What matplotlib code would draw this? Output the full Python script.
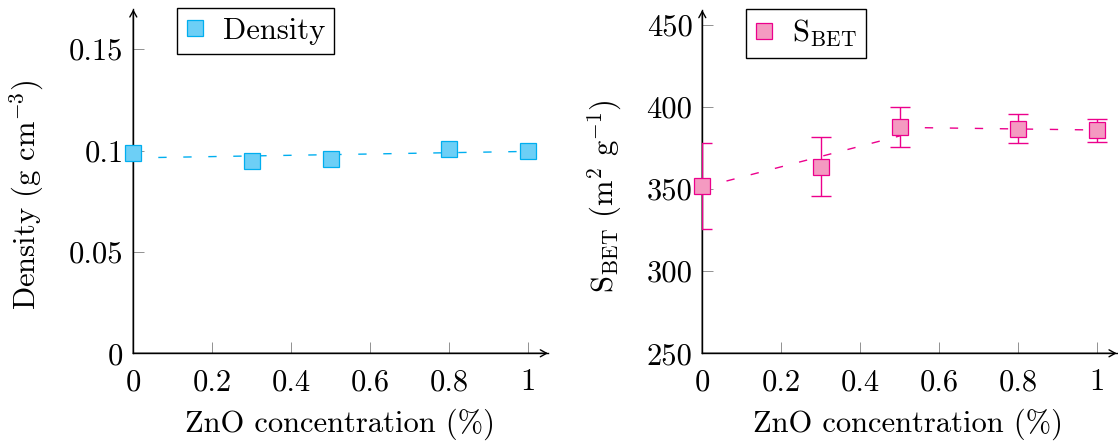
import matplotlib
matplotlib.use("Agg")
import matplotlib.pyplot as plt
from matplotlib.lines import Line2D

plt.rcParams['font.family'] = ['cmr10', 'DejaVu Serif']
plt.rcParams['mathtext.fontset'] = 'cm'
plt.rcParams['axes.unicode_minus'] = False
plt.rcParams['axes.formatter.use_mathtext'] = True

# data
conc = [0, 0.3, 0.5, 0.8, 1]
density = [0.0988, 0.0947, 0.0957, 0.1006, 0.0997]
density_fit_x = [0, 1]
density_fit_y = [0.0964, 0.0996]

sbet = [352, 363.7, 387.8, 386.8, 385.8]
sbet_err = [26, 18, 12, 9, 7]
sbet_fit_lo_x = [0, 0.5]
sbet_fit_lo_y = [351.1, 382.4]
sbet_fit_hi_x = [0.5, 1]
sbet_fit_hi_y = [387.6, 386.0]

x_ticks = [0, 0.2, 0.4, 0.6, 0.8, 1]
x_ticklabels = ["0", "0.2", "0.4", "0.6", "0.8", "1"]
dens_ticks = [0, 0.05, 0.1, 0.15]
dens_ticklabels = ["0", "0.05", "0.1", "0.15"]
sbet_ticks = [250, 300, 350, 400, 450]
sbet_ticklabels = ["250", "300", "350", "400", "450"]

cyan_edge = "#00AEEF"
cyan_fill = "#6DCFF6"
pink_edge = "#EC008C"
pink_fill = "#F49AC1"

FS = 22
W, H = 1118, 447
fig = plt.figure(figsize=(W / 100, H / 100), dpi=100)


def px_axes(x0, x1, ybot, ytop):
    return fig.add_axes([x0 / W, (H - ybot) / H, (x1 - x0) / W, (ybot - ytop) / H])


def style(ax):
    for s in ("top", "right"):
        ax.spines[s].set_visible(False)
    for s in ("left", "bottom"):
        ax.spines[s].set_linewidth(1.0)
        ax.spines[s].set_zorder(2.5)
    ax.tick_params(direction="in", length=8, width=0.6, color="#808080",
                   labelsize=FS, top=False, right=False)
    ax.tick_params(axis="x", pad=11)
    ax.tick_params(axis="y", pad=7)
    arr = dict(arrowstyle="->,head_length=0.45,head_width=0.25", lw=1.0,
               color="k", shrinkA=0, shrinkB=0)
    ax.annotate("", xy=(1, 0), xytext=(0, 0), xycoords="axes fraction",
                arrowprops=arr, annotation_clip=False)
    ax.annotate("", xy=(0, 1), xytext=(0, 0), xycoords="axes fraction",
                arrowprops=arr, annotation_clip=False)


def legend(ax, fill, edge, label):
    h = Line2D([], [], ls="none", marker="s", ms=12, mfc=fill, mec=edge, mew=0.9)
    lg = ax.legend([h], [label], loc="upper left", bbox_to_anchor=(0.105, 1.003),
                   fontsize=FS, frameon=True, fancybox=False, framealpha=1,
                   edgecolor="k", borderpad=0.3, handlelength=0.6,
                   handletextpad=0.6, borderaxespad=0)
    lg.get_frame().set_linewidth(1.0)


dash = (0, (6, 12))

# left: density
ax1 = px_axes(133.3, 548, 353.3, 9.3)
style(ax1)
ax1.set_xlim(0, 1.05)
ax1.set_ylim(0, 0.1697)
ax1.plot(density_fit_x, density_fit_y, ls=dash, color=cyan_edge, lw=1.0, zorder=3)
ax1.plot(conc, density, ls="none", marker="s", ms=12, mfc=cyan_fill,
         mec=cyan_edge, mew=0.9, clip_on=False, zorder=5)
ax1.set_xticks(x_ticks, x_ticklabels)
ax1.set_yticks(dens_ticks, dens_ticklabels)
ax1.set_xlabel("ZnO concentration (%)", fontsize=FS)
ax1.set_ylabel(r"Density (g cm$^{-3}$)", fontsize=FS)
ax1.xaxis.set_label_coords(0.498, -0.16)
ax1.yaxis.set_label_coords(-0.21, 0.46)
legend(ax1, cyan_fill, cyan_edge, "Density")

# right: specific surface area
ax2 = px_axes(702.3, 1116.7, 353.3, 10)
style(ax2)
ax2.set_xlim(0, 1.049)
ax2.set_ylim(250, 459.1)
ax2.plot(sbet_fit_lo_x, sbet_fit_lo_y, ls=dash, color=pink_edge, lw=1.0, zorder=3)
ax2.plot(sbet_fit_hi_x, sbet_fit_hi_y, ls=dash, color=pink_edge, lw=1.0, zorder=3)
ax2.errorbar(conc, sbet, yerr=sbet_err, fmt="none", ecolor=pink_edge,
             elinewidth=1.0, capsize=7.5, capthick=1.0, zorder=4)
ax2.plot(conc, sbet, ls="none", marker="s", ms=12, mfc=pink_fill,
         mec=pink_edge, mew=0.9, clip_on=False, zorder=5)
ax2.set_xticks(x_ticks, x_ticklabels)
ax2.set_yticks(sbet_ticks, sbet_ticklabels)
ax2.set_xlabel("ZnO concentration (%)", fontsize=FS)
ax2.set_ylabel(r"S$_{\mathrm{BET}}$ (m$^2$ g$^{-1}$)", fontsize=FS)
ax2.xaxis.set_label_coords(0.496, -0.16)
ax2.yaxis.set_label_coords(-0.189, 0.457)
legend(ax2, pink_fill, pink_edge, r"S$_{\mathrm{BET}}$")

fig.savefig("out.png", dpi=100)
